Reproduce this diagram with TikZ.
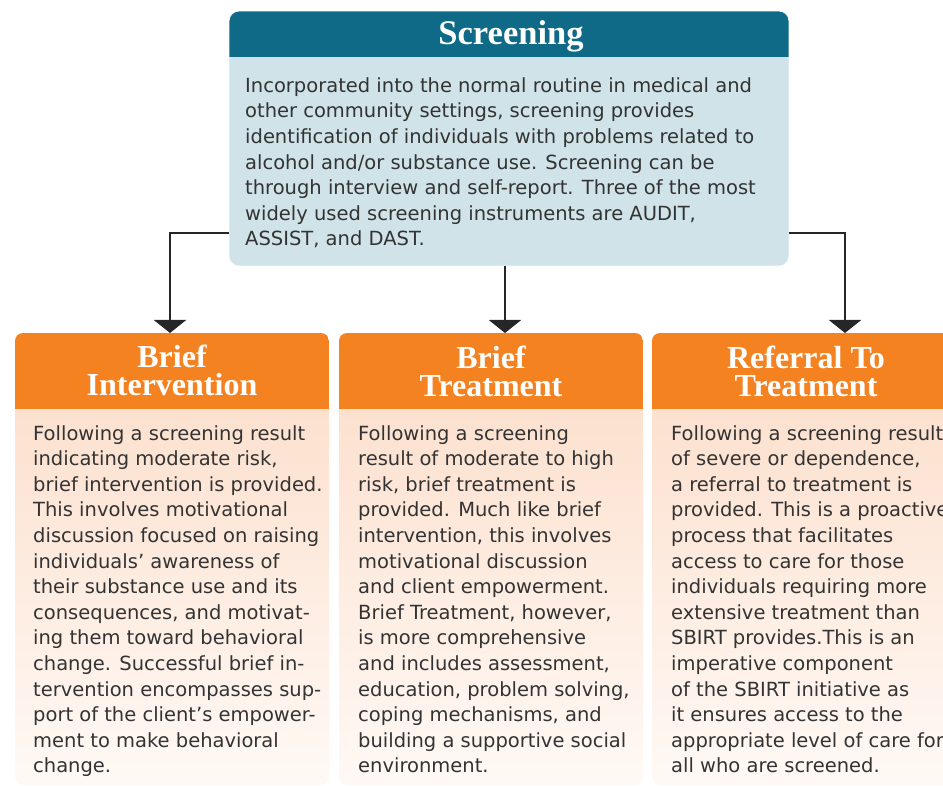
\documentclass[tikz,border=0pt]{standalone}
\usepackage{fontspec}
\setmainfont{DejaVu Sans}
\newfontfamily\hdfont{Liberation Serif}
\usetikzlibrary{arrows.meta}
\definecolor{teal1}{HTML}{0E6A86}
\definecolor{lblue}{HTML}{CFE3E9}
\definecolor{orng}{HTML}{F58220}
\definecolor{peachA}{HTML}{FCE1CF}
\definecolor{peachB}{HTML}{FFF9F5}
\definecolor{txt}{HTML}{333333}
\definecolor{ln}{HTML}{262626}
\begin{document}
\begin{tikzpicture}[x=1pt,y=-1pt,
  boxarea/.style={inner sep=0pt, outer sep=0pt},
  bodytext/.style={anchor=north west, inner sep=0pt, align=left, text=txt, font=\fontsize{19.5}{25.6}\selectfont},
  headtext/.style={text=white, inner sep=0pt, anchor=base, font=\hdfont\bfseries\fontsize{32}{34}\selectfont},
  arr/.style={draw=ln, line width=2pt, -{Triangle[width=32pt,length=13pt]}}]
\useasboundingbox (0,0) rectangle (943,786);
\clip (0,0) rectangle (943,786);
% top box
\node[boxarea, minimum width=560pt, minimum height=255pt] (scr) at (509,138.5) {};
\begin{scope}
  \clip[rounded corners=10pt] (scr.north west) rectangle (scr.south east);
  \fill[lblue] (scr.north west) rectangle (scr.south east);
  \fill[teal1] (scr.north west) rectangle ([yshift=-46pt]scr.north east);
\end{scope}
\draw[white!85!lblue, line width=0.8pt, rounded corners=10pt] (scr.north west) rectangle (scr.south east);
\node[text=white, inner sep=0pt, anchor=base, font=\hdfont\bfseries\fontsize{34.5}{36}\selectfont] (scrt) at (511,44.5) {Screening};
\node[bodytext] (scrb) at (245,77.2) {Incorporated into the normal routine in medical and\\
other community settings, screening provides\\
identification of individuals with problems related to\\
alcohol and/or substance use. Screening can be\\
through interview and self-report. Three of the most\\
widely used screening instruments are AUDIT,\\
ASSIST, and DAST.};
% lower boxes
\node[boxarea, minimum width=314pt, minimum height=452pt] (bi) at (172,559) {};
\node[boxarea, minimum width=304pt, minimum height=452pt] (bt) at (491,559) {};
\node[boxarea, minimum width=308pt, minimum height=452pt] (rt) at (806,559) {};
\foreach \n in {bi,bt,rt}{
  \begin{scope}
    \clip[rounded corners=8pt] (\n.north west) rectangle (\n.south east);
    \fill[orng] (\n.north west) rectangle ([yshift=-77pt]\n.north east);
    \shade[top color=peachA, bottom color=peachB] ([yshift=-77pt]\n.north west) rectangle (\n.south east);
  \end{scope}
}
\node[headtext] (bih1) at (172,367.5) {Brief};
\node[headtext] (bih2) at (172,395.5) {Intervention};
\node[headtext] (bth1) at (491,369) {Brief};
\node[headtext] (bth2) at (491,396.5) {Treatment};
\node[headtext] (rth1) at (806,369) {Referral To};
\node[headtext] (rth2) at (806,396.5) {Treatment};
\node[bodytext] (bib) at (33,425) {Following a screening result\\
indicating moderate risk,\\
brief intervention is provided.\\
This involves motivational\\
discussion focused on raising\\
individuals’ awareness of\\
their substance use and its\\
consequences, and motivat-\\
ing them toward behavioral\\
change. Successful brief in-\\
tervention encompasses sup-\\
port of the client’s empower-\\
ment to make behavioral\\
change.};
\node[bodytext] (btb) at (358,425) {Following a screening\\
result of moderate to high\\
risk, brief treatment is\\
provided. Much like brief\\
intervention, this involves\\
motivational discussion\\
and client empowerment.\\
Brief Treatment, however,\\
is more comprehensive\\
and includes assessment,\\
education, problem solving,\\
coping mechanisms, and\\
building a supportive social\\
environment.};
\node[bodytext] (rtb) at (671,425) {Following a screening result\\
of severe or dependence,\\
a referral to treatment is\\
provided. This is a proactive\\
process that facilitates\\
access to care for those\\
individuals requiring more\\
extensive treatment than\\
SBIRT provides.This is an\\
imperative component\\
of the SBIRT initiative as\\
it ensures access to the\\
appropriate level of care for\\
all who are screened.};
% connectors
\coordinate (e1) at (170,333);
\coordinate (e2) at (505,333);
\coordinate (e3) at (845,333);
\draw[arr] ([yshift=33pt]scr.south west) -| (e1);
\draw[arr] (scr.south -| e2) -- (e2);
\draw[arr] ([yshift=33pt]scr.south east) -| (e3);
\end{tikzpicture}
\end{document}
